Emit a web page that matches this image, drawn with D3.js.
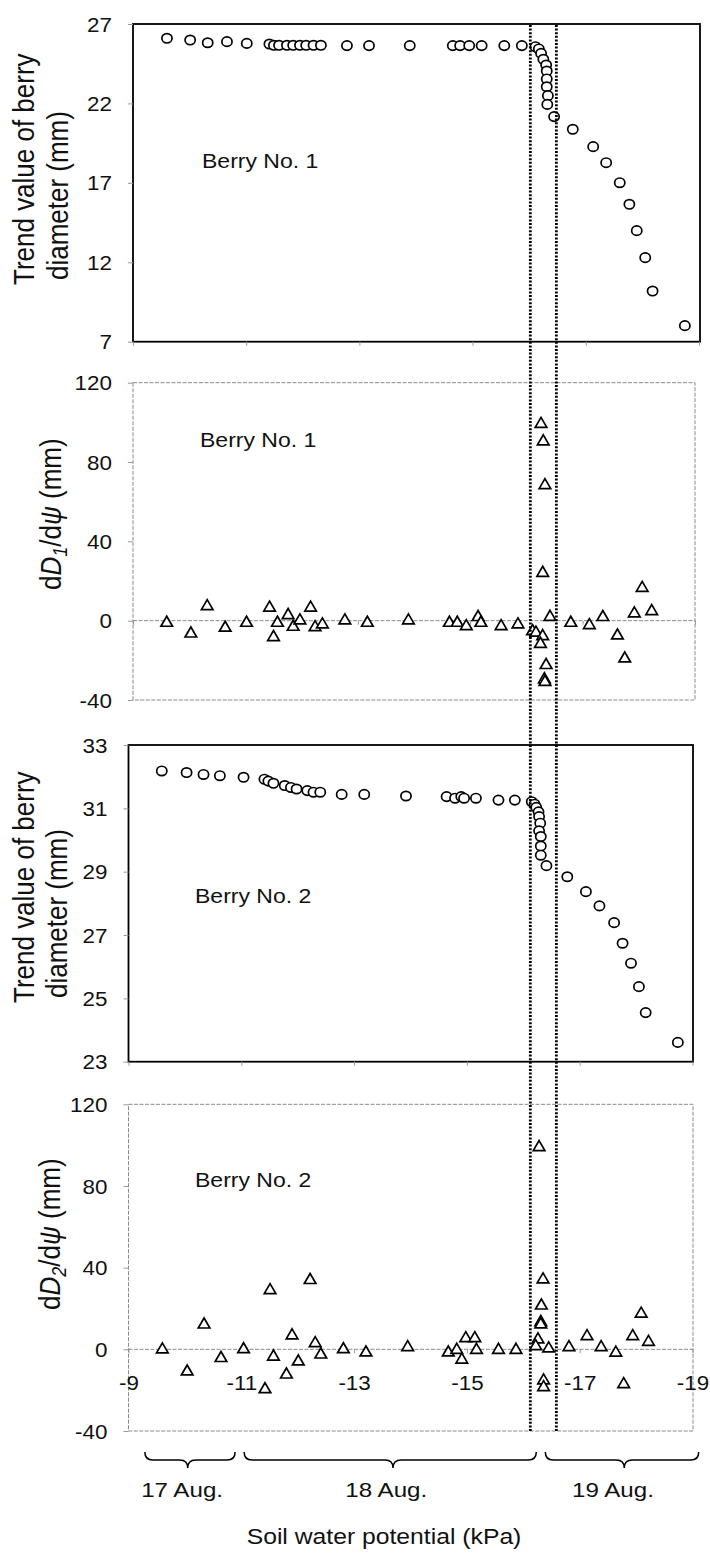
<!DOCTYPE html>
<html>
<head>
<meta charset="utf-8">
<script src="https://cdn.jsdelivr.net/npm/d3@7"></script>
<style>
  body { margin: 0; background: #fff; }
  text { font-family: "Liberation Sans", Arial, sans-serif; fill: #111; }
</style>
</head>
<body>
<svg id="chart" width="710" height="1554"></svg>
<script>
// ---- Data -------------------------------------------------------------
// Soil water potential (kPa) axis
const psiTicks = [-9, -11, -13, -15, -17, -19];

// Berry No. 1: trend value of berry diameter (mm)
const berry1Psi = [-9.60, -10.01, -10.32, -10.66, -11.01, -11.41, -11.49, -11.58, -11.72, -11.83,
  -11.95, -12.06, -12.19, -12.32, -12.78, -13.17, -13.89, -14.65, -14.78, -14.94, -15.16, -15.56,
  -15.87, -16.11, -16.17, -16.21, -16.25, -16.30, -16.31, -16.31, -16.31, -16.33, -16.32, -16.44,
  -16.77, -17.13, -17.36, -17.60, -17.77, -17.90, -18.05, -18.18, -18.75];
const berry1Diam = [26.10, 25.99, 25.82, 25.89, 25.78, 25.74, 25.66, 25.66, 25.66, 25.66,
  25.66, 25.66, 25.66, 25.66, 25.64, 25.64, 25.64, 25.64, 25.64, 25.64, 25.64, 25.64,
  25.64, 25.57, 25.43, 25.15, 24.78, 24.42, 24.04, 23.54, 23.05, 22.49, 21.94, 21.17,
  20.37, 19.28, 18.27, 17.01, 15.65, 13.99, 12.29, 10.19, 8.01];

// Berry No. 1: dD1/dψ (mm)
const berry1RatePsi = [-9.60, -10.03, -10.32, -10.64, -11.02, -11.43, -11.50, -11.57, -11.76, -11.85,
  -11.97, -12.16, -12.24, -12.37, -12.77, -13.17, -13.90, -14.63, -14.77, -14.93, -15.14, -15.19,
  -15.55, -15.85, -16.11, -16.17, -16.26, -16.30, -16.33, -16.29, -16.29, -16.25, -16.35, -16.32,
  -16.33, -16.42, -16.79, -17.12, -17.36, -17.62, -17.75, -17.92, -18.06, -18.23];
const berry1Rate = [-0.5, -5.9, 7.9, -3.0, -0.5, 7.1, -7.7, -0.5, 3.4, -2.5,
  0.7, 7.1, -2.7, -1.3, 0.7, -0.5, 0.7, -0.5, -0.5, -2.2, 2.4, -0.5,
  -2.2, -1.3, -4.7, -5.5, 99.8, 91.0, 68.9, 24.7, -7.2, -11.1, -21.8, -29.0,
  -30.3, 2.5, -0.5, -1.7, 2.4, -6.9, -18.5, 4.2, 17.1, 5.4];

// Berry No. 2: trend value of berry diameter (mm)
const berry2Psi = [-9.59, -10.03, -10.33, -10.62, -11.04, -11.41, -11.48, -11.57, -11.77, -11.88,
  -11.98, -12.17, -12.28, -12.40, -12.78, -13.18, -13.92, -14.64, -14.79, -14.90, -14.95, -15.16,
  -15.56, -15.85, -16.15, -16.20, -16.23, -16.27, -16.28, -16.30, -16.28, -16.31, -16.31, -16.31,
  -16.41, -16.78, -17.11, -17.35, -17.61, -17.76, -17.91, -18.05, -18.17, -18.74];
const berry2Diam = [32.18, 32.13, 32.07, 32.03, 31.98, 31.92, 31.86, 31.79, 31.72, 31.66,
  31.61, 31.56, 31.51, 31.51, 31.44, 31.44, 31.39, 31.37, 31.32, 31.37, 31.32, 31.32,
  31.26, 31.26, 31.21, 31.13, 31.03, 30.89, 30.74, 30.53, 30.29, 30.11, 29.81, 29.52,
  29.19, 28.84, 28.37, 27.92, 27.39, 26.74, 26.11, 25.37, 24.55, 23.61];

// Berry No. 2: dD2/dψ (mm)
const berry2RatePsi = [-9.60, -10.04, -10.34, -10.64, -11.04, -11.42, -11.51, -11.57, -11.80, -11.90,
  -12.01, -12.22, -12.31, -12.41, -12.81, -13.21, -13.95, -14.67, -14.82, -14.91, -14.98, -15.14,
  -15.17, -15.56, -15.87, -16.28, -16.35, -16.32, -16.31, -16.31, -16.26, -16.22, -16.36, -16.36,
  -16.45, -16.81, -17.13, -17.38, -17.64, -17.78, -17.94, -18.09, -18.22];
const berry2Rate = [0.5, -10.3, 12.7, -3.7, 0.6, -19.0, 29.5, -3.0, -11.8, 7.4,
  -5.4, 34.5, 3.6, -2.0, 0.6, -1.0, 1.6, -1.0, 0.3, -4.5, 6.0, 6.0,
  0.3, 0.3, 0.3, 99.6, 34.8, 22.0, 13.9, 12.8, 5.4, 2.1, -14.7, -18.0,
  1.0, 1.6, 7.0, 1.6, -1.1, -16.5, 7.0, 18.0, 4.2];

// Y tick values
const diam1Ticks = [7, 12, 17, 22, 27];
const diam2Ticks = [23, 25, 27, 29, 31, 33];
const rateTicks = [-40, 0, 40, 80, 120];

// Transition window marked by the two dotted lines (kPa)
const transitionPsi = [-16.02, -16.48];

// Day spans under the axis (kPa)
const dayLabels = ["17 Aug.", "18 Aug.", "19 Aug."];
const dayFrom = [-9.29, -11.05, -16.39];
const dayTo = [-10.89, -16.23, -19.11];
const dayTip = [-10.05, -13.69, -17.79];
const dayTextAt = [-9.95, -13.57, -17.59];

// ---- Drawing ---------------------------------------------------------
const SX = 1.15; // horizontal glyph stretch used for all lettering
const svg = d3.select("#chart");

function txt(parent, x, y, str, size, anchor, rot) {
  return parent.append("text")
    .attr("transform", `translate(${x},${y}) scale(${SX},1)` + (rot ? " rotate(-90)" : ""))
    .attr("text-anchor", anchor)
    .style("font-size", size + "px")
    .text(str);
}

function circles(g, x, y, xs, ys) {
  g.selectAll(null).data(xs).enter().append("ellipse")
    .attr("cx", (d) => x(d))
    .attr("cy", (d, i) => y(ys[i]))
    .attr("rx", 5.1).attr("ry", 4.7)
    .attr("fill", "#fff").attr("stroke", "#000").attr("stroke-width", 1.7);
}

function triangles(g, x, y, xs, ys) {
  const tri = "M0,-5.4L5.8,4.6L-5.8,4.6Z";
  g.selectAll(null).data(xs).enter().append("path")
    .attr("d", tri)
    .attr("transform", (d, i) => `translate(${x(d)},${y(ys[i])})`)
    .attr("fill", "#fff").attr("stroke", "#000").attr("stroke-width", 1.7)
    .attr("stroke-linejoin", "miter");
}

function panel(cfg) {
  const x = d3.scaleLinear().domain([-9, -19]).range(cfg.xr);
  const y = d3.scaleLinear().domain(cfg.yd).range(cfg.yr);
  const g = svg.append("g");

  // frame
  g.append("rect")
    .attr("x", cfg.xr[0]).attr("y", cfg.yr[1])
    .attr("width", cfg.right - cfg.xr[0]).attr("height", cfg.yr[0] - cfg.yr[1])
    .attr("fill", "none")
    .attr("stroke", cfg.solid ? "#000" : "#8a8a8a")
    .attr("stroke-width", cfg.solid ? 1.8 : 1)
    .attr("stroke-dasharray", cfg.solid ? null : "4,1.5");

  // zero line
  if (!cfg.solid) {
    g.append("line")
      .attr("x1", cfg.xr[0]).attr("x2", cfg.right)
      .attr("y1", y(0)).attr("y2", y(0))
      .attr("stroke", "#8a8a8a").attr("stroke-width", 1)
      .attr("stroke-dasharray", "4,1.5");
  }

  // y axis
  const ya = g.append("g")
    .attr("transform", `translate(${cfg.xr[0]},0)`)
    .call(d3.axisLeft(y).tickValues(cfg.yTicks).tickSize(5).tickFormat((d) => String(d)));
  ya.attr("font-family", null).attr("font-size", null);
  ya.select(".domain").remove();
  ya.selectAll(".tick line").attr("stroke", "#999");
  ya.selectAll(".tick text")
    .attr("x", -21 / SX).attr("dy", "0.36em")
    .attr("transform", `scale(${SX},1)`)
    .attr("fill", "#111")
    .style("font-size", "19.5px");

  // x axis (ticks on the bottom edge or on the zero line)
  const axisY = cfg.solid ? cfg.yr[0] : y(0);
  const xa = g.append("g")
    .attr("transform", `translate(0,${axisY})`)
    .call(d3.axisBottom(x).tickValues(psiTicks).tickSize(4).tickFormat((d) => String(d)));
  xa.attr("font-family", null).attr("font-size", null);
  xa.select(".domain").remove();
  xa.selectAll(".tick line").attr("stroke", "#999");
  if (cfg.xLabels) {
    xa.selectAll(".tick text")
      .attr("y", 41).attr("dy", null)
      .attr("transform", `scale(${SX},1)`)
      .attr("fill", "#111")
      .style("font-size", "19.5px");
  } else {
    xa.selectAll(".tick text").remove();
  }

  // panel label
  txt(g, cfg.labelAt[0], cfg.labelAt[1], cfg.label, 20, "start");

  return { g, x, y };
}

// Panel 1: Berry No. 1 diameter
const p1 = panel({ xr: [133, 699], right: 700, yd: [7, 27], yr: [341.7, 24], yTicks: diam1Ticks,
  solid: true, label: "Berry No. 1", labelAt: [202, 168] });
circles(p1.g, p1.x, p1.y, berry1Psi, berry1Diam);
txt(svg, 34, 285, "Trend value of berry", 26, "start", true);
txt(svg, 68, 280, "diameter (mm)", 26, "start", true);

// Panel 2: Berry No. 1 rate
const p2 = panel({ xr: [133, 695], right: 695, yd: [-40, 120], yr: [700, 382.7], yTicks: rateTicks,
  solid: false, label: "Berry No. 1", labelAt: [200, 447] });
triangles(p2.g, p2.x, p2.y, berry1RatePsi, berry1Rate);

// Panel 3: Berry No. 2 diameter
const p3 = panel({ xr: [128.5, 692.5], right: 693, yd: [23, 33], yr: [1061.7, 745], yTicks: diam2Ticks,
  solid: true, label: "Berry No. 2", labelAt: [195, 903] });
circles(p3.g, p3.x, p3.y, berry2Psi, berry2Diam);
txt(svg, 34, 1003, "Trend value of berry", 26, "start", true);
txt(svg, 67, 998, "diameter (mm)", 26, "start", true);

// Panel 4: Berry No. 2 rate
const p4 = panel({ xr: [128.5, 692.5], right: 693, yd: [-40, 120], yr: [1431, 1104.3], yTicks: rateTicks,
  solid: false, xLabels: true, label: "Berry No. 2", labelAt: [195, 1187] });
triangles(p4.g, p4.x, p4.y, berry2RatePsi, berry2Rate);

// Rate axis titles: dD1/dψ (mm) and dD2/dψ (mm)
function rateTitle(xPos, yPos, idx) {
  const t = svg.append("text")
    .attr("transform", `translate(${xPos},${yPos}) scale(${SX},1) rotate(-90)`)
    .attr("text-anchor", "start")
    .style("font-size", "26px");
  t.append("tspan").text("d");
  t.append("tspan").style("font-style", "italic").text("D");
  t.append("tspan").style("font-style", "italic").style("font-size", "18px").attr("dy", 5).text(idx);
  t.append("tspan").attr("dy", -5).text("/d");
  t.append("tspan").style("font-style", "italic").text("\u03C8");
  t.append("tspan").text(" (mm)");
}
rateTitle(61, 590, "1");
rateTitle(60, 1310, "2");

// Dotted lines bounding the transition window
svg.selectAll(null).data(transitionPsi).enter().append("line")
  .attr("x1", (d) => p1.x(d)).attr("x2", (d) => p1.x(d))
  .attr("y1", 25).attr("y2", 1431)
  .attr("stroke", "#000").attr("stroke-width", 2.8)
  .attr("stroke-dasharray", "2,1.6");

// Day braces and labels
const yTop = 1452, yMid = 1460, yTip = 1468, r = 8;
dayLabels.forEach((lab, i) => {
  const a = p4.x(dayFrom[i]), b = p4.x(dayTo[i]), m = p4.x(dayTip[i]);
  const path = `M${a},${yTop} Q${a},${yMid} ${a + r},${yMid} L${m - r},${yMid} Q${m},${yMid} ${m},${yTip}` +
    ` Q${m},${yMid} ${m + r},${yMid} L${b - r},${yMid} Q${b},${yMid} ${b},${yTop}`;
  svg.append("path").attr("d", path).attr("fill", "none")
    .attr("stroke", "#000").attr("stroke-width", 1.5);
  txt(svg, p4.x(dayTextAt[i]), 1497, lab, 21, "middle");
});

// X axis title
txt(svg, 384, 1544, "Soil water potential (kPa)", 21.5, "middle");
</script>
</body>
</html>
